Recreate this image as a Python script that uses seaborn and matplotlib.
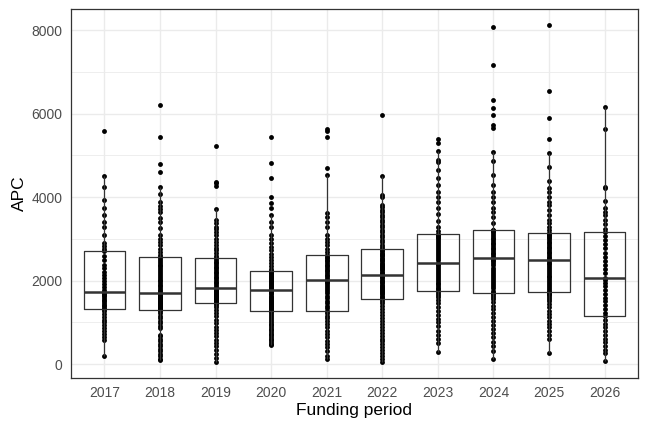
import numpy as np
import pandas as pd
import matplotlib
matplotlib.use("Agg")
import matplotlib.pyplot as plt
from matplotlib.ticker import MultipleLocator
import seaborn as sns

# APC values per funding period
periods = ['2017', '2018', '2019', '2020', '2021', '2022', '2023', '2024', '2025', '2026']

apc_2017 = [184, 575, 640, 720, 790, 870, 930, 1000, 1060, 1130, 1200, 1260,
            1310,
            1340, 1380, 1420, 1460, 1500, 1540, 1580, 1620, 1650, 1680, 1700,
            1725,
            1780, 1850, 1920, 1990, 2060, 2130, 2200, 2290, 2380, 2480, 2580,
            2699,
            2760, 2820, 2900, 3100, 3290, 3409, 3569, 3729, 3928, 4240, 4495, 5573]

apc_2018 = [96, 130, 180, 240, 300, 360, 420, 480, 540, 600, 660, 700, 860, 920, 980,
            1040, 1100, 1160, 1210, 1260,
            1293,
            1310, 1330, 1350, 1370, 1390, 1410, 1430, 1450, 1470, 1490, 1510, 1530, 1550,
            1570, 1600, 1630, 1650, 1670, 1690,
            1709,
            1740, 1780, 1820, 1860, 1900, 1940, 1980, 2020, 2060, 2100, 2150, 2200, 2250,
            2300, 2340, 2380, 2420, 2470, 2510,
            2555,
            2600, 2680, 2760, 2840, 2920, 3000, 3080, 3250, 3400, 3500, 3650, 3710, 3790,
            3870, 4072, 4232, 4599, 4790, 5437, 6211]

apc_2019 = [56, 150, 250, 340, 420, 500, 580, 660, 740, 820, 894, 980, 1060, 1140, 1220,
            1300, 1360, 1410,
            1454,
            1470, 1490, 1510, 1530, 1550, 1570, 1590, 1610, 1630, 1650, 1670, 1690, 1710,
            1735, 1760, 1780, 1800,
            1813,
            1850, 1890, 1930, 1970, 2010, 2050, 2090, 2130, 2170, 2210, 2250, 2290, 2330,
            2370, 2410, 2450, 2490,
            2531,
            2580, 2650, 2720, 2790, 2860, 2930, 3000, 3080, 3160, 3240, 3290, 3370, 3450,
            3705, 4270, 4330, 4370, 5230]

apc_2020 = [455, 490, 530, 570, 610, 650, 690, 730, 770, 810, 850, 890, 930, 970, 1010,
            1050, 1100, 1150, 1200, 1240,
            1262,
            1290, 1315, 1340, 1365, 1390, 1415, 1440, 1465, 1490, 1515, 1540, 1565, 1590,
            1615, 1640, 1665, 1690, 1715, 1740,
            1765,
            1790, 1815, 1840, 1865, 1890, 1915, 1940, 1965, 1990, 2015, 2040, 2065, 2090,
            2115, 2140, 2165, 2190, 2210, 2225,
            2235,
            2280, 2350, 2420, 2490, 2560, 2640, 2720, 2800, 2900, 3000, 3100, 3290, 3410,
            3570, 3730, 3850, 3990, 4450, 4822, 5437]

apc_2021 = [112, 200, 300, 400, 480, 560, 640, 720, 800, 880, 950, 1020, 1100, 1160, 1220,
            1269,
            1330, 1390, 1450, 1510, 1570, 1630, 1690, 1740, 1790, 1840, 1890, 1930, 1960, 1990,
            2019,
            2060, 2100, 2140, 2180, 2220, 2260, 2300, 2340, 2380, 2420, 2460, 2500, 2540, 2570,
            2603,
            2680, 2760, 2840, 2920, 3000, 3080, 3290, 3410, 3530, 3608, 4527, 4694, 5437,
            5590, 5629]

apc_2022 = [56, 120, 190, 260, 330, 400, 470, 540, 610, 680, 750, 820, 890, 960, 1030,
            1100, 1170, 1240, 1310, 1380, 1450, 1510,
            1565,
            1590, 1615, 1640, 1665, 1690, 1715, 1740, 1765, 1790, 1815, 1840, 1870, 1900,
            1930, 1960, 1990, 2020, 2050, 2080, 2100, 2120,
            2139,
            2165, 2190, 2215, 2240, 2265, 2290, 2315, 2340, 2370, 2400, 2430, 2460, 2490,
            2520, 2550, 2580, 2610, 2640, 2670, 2700, 2725,
            2747,
            2800, 2860, 2920, 2980, 3040, 3100, 3160, 3220, 3280, 3340, 3400, 3460, 3520,
            3580, 3640, 3700, 3760, 3808, 4010, 4048, 4510, 5956]

apc_2023 = [295, 495, 600, 700, 800, 900, 1000, 1090, 1180, 1270, 1360, 1450, 1530, 1600,
            1660, 1710,
            1748,
            1790, 1830, 1870, 1910, 1950, 1990, 2030, 2080, 2130, 2180, 2230, 2280, 2330,
            2370, 2400,
            2427,
            2480, 2530, 2580, 2630, 2680, 2730, 2780, 2830, 2880, 2930, 2970, 3010, 3050,
            3080, 3100,
            3121,
            3190, 3270, 3430, 3590, 3730, 3890, 4010, 4110, 4287, 4447, 4647, 4850, 4886,
            5100, 5300, 5380]

apc_2024 = [112, 311, 420, 530, 640, 740, 840, 940, 1040, 1130, 1220, 1310, 1400, 1480,
            1550, 1610, 1660, 1690,
            1709,
            1760, 1810, 1860, 1910, 1960, 2010, 2060, 2110, 2160, 2210, 2260, 2310, 2360,
            2410, 2460, 2500, 2530,
            2547,
            2590, 2630, 2670, 2710, 2750, 2790, 2830, 2870, 2910, 2950, 2990, 3030, 3070,
            3110, 3150, 3180, 3200,
            3209,
            3370, 3530, 3650, 3730, 3890, 4010, 4130, 4287, 4527, 4870, 5069, 5650, 5725,
            5964, 6140, 6323, 7150, 8060]

apc_2025 = [271, 606, 700, 790, 880, 960, 1040, 1120, 1200, 1280, 1360, 1430, 1500, 1560,
            1610, 1650, 1680, 1700,
            1717,
            1760, 1805, 1850, 1895, 1940, 1985, 2030, 2075, 2120, 2165, 2210, 2255, 2300,
            2345, 2390, 2430, 2465,
            2491,
            2530, 2570, 2610, 2650, 2690, 2730, 2770, 2810, 2850, 2890, 2930, 2970, 3010,
            3050, 3080, 3100, 3115,
            3129,
            3200, 3290, 3370, 3450, 3570, 3690, 3810, 3890, 4010, 4130, 4210, 4391, 4710,
            5045, 5389, 5900, 6539, 8112]

apc_2026 = [80, 271, 340, 430, 520, 610, 700, 790, 880, 970, 1060,
            1140,
            1230, 1320, 1410, 1500, 1590, 1680, 1770, 1860, 1950, 2020,
            2067,
            2170, 2270, 2370, 2470, 2570, 2670, 2770, 2870, 2970, 3070,
            3161,
            3226, 3360, 3450, 3570, 3650, 3730, 3912, 4210, 4248, 5620, 6164]

y_ticks = [0, 2000, 4000, 6000, 8000]

all_values = [apc_2017, apc_2018, apc_2019, apc_2020, apc_2021,
              apc_2022, apc_2023, apc_2024, apc_2025, apc_2026]
df = pd.DataFrame({
    'period': np.repeat(periods, [len(v) for v in all_values]),
    'APC': np.concatenate(all_values),
})

sns.set_style("white")
plt.rcParams['font.family'] = ['Liberation Sans', 'DejaVu Sans']

fig = plt.figure(figsize=(6.48, 4.32), dpi=100)
ax = fig.add_axes([71 / 648, 1 - 378 / 432, (638 - 71) / 648, (378 - 9) / 432])

sns.stripplot(data=df, x='period', y='APC', order=periods, jitter=False,
              color='black', size=3.5, linewidth=0, ax=ax, zorder=3)
sns.boxplot(data=df, x='period', y='APC', order=periods, fill=False,
            color='#333333', linewidth=0.9, width=0.75, showfliers=False,
            showcaps=False, whis=1.5,
            medianprops=dict(linewidth=1.8, color='#333333'),
            ax=ax, zorder=4)

ax.set_xlim(-0.6, 9.6)
ax.set_ylim(-335, 8503)
ax.set_yticks(y_ticks)
ax.yaxis.set_minor_locator(MultipleLocator(1000))

ax.set_axisbelow(True)
ax.grid(True, which='major', color='#EBEBEB', linewidth=1.0)
ax.grid(True, which='minor', axis='y', color='#EBEBEB', linewidth=0.6)
for spine in ax.spines.values():
    spine.set_visible(True)
    spine.set_color('#333333')
    spine.set_linewidth(0.9)

ax.tick_params(axis='both', which='major', direction='out', length=3.5, width=0.8,
               color='#333333', labelcolor='#4D4D4D', labelsize=10, pad=2.5)
ax.tick_params(axis='y', which='minor', length=0)

ax.set_xlabel('Funding period', fontsize=12.5, color='black', labelpad=2)
ax.set_ylabel('APC', fontsize=12.5, color='black', labelpad=3)

fig.savefig('out.png', dpi=100)
